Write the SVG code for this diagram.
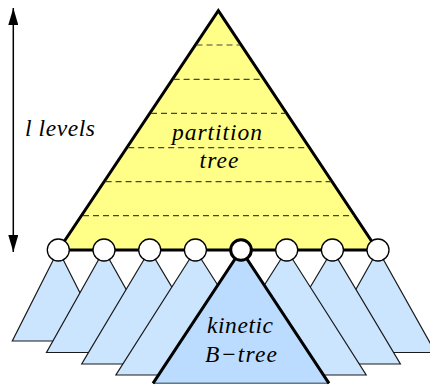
<svg xmlns="http://www.w3.org/2000/svg" width="430" height="386" viewBox="0 0 430 386">
<defs>
<style>
.sub{fill:#cce5ff;stroke:#1a1a1a;stroke-width:1.2;stroke-linejoin:miter}
.dash{stroke:#444;stroke-width:1.2;stroke-dasharray:6 4;fill:none}
.node{fill:#fff;stroke:#000;stroke-width:1.3}
.lbl{font-family:'Liberation Serif',serif;font-style:italic;font-size:23.5px;fill:#000}
</style>
<marker id="arr" viewBox="0 0 17 10" refX="17" refY="5" markerWidth="17" markerHeight="10" markerUnits="userSpaceOnUse" orient="auto-start-reverse">
<path d="M0,0 L17,5 L0,10 Z" fill="#000"/>
</marker>
</defs>
<rect width="430" height="386" fill="#fff"/>

<g id="subtrees">
<polygon id="sub1" class="sub" points="58.3,250 12.3,341 104.3,341"/>
<polygon id="sub2" class="sub" points="104,250 46.5,352.5 161.5,352.5"/>
<polygon id="sub3" class="sub" points="149.7,250 81.7,364 217.7,364"/>
<polygon id="sub4" class="sub" points="195.4,250 115.9,375 274.9,375"/>
<polygon id="sub8" class="sub" points="378,250 320.5,352.5 435.5,352.5"/>
<polygon id="sub7" class="sub" points="332.4,250 264.4,364 400.4,364"/>
<polygon id="sub6" class="sub" points="286.7,250 207.2,375 366.2,375"/>
</g>

<g id="kinetic">
<polygon points="241,250 153,383.3 329,383.3" fill="#bbdcff"/>
<line x1="153" y1="383.3" x2="329" y2="383.3" stroke="#667788" stroke-width="1.6"/>
<polyline points="153,383.3 241,250 329,383.3" fill="none" stroke="#000" stroke-width="3"/>
<text class="lbl" x="240" y="333" text-anchor="middle" textLength="66" lengthAdjust="spacing">kinetic</text>
<text class="lbl" x="241" y="361.5" text-anchor="middle" textLength="72" lengthAdjust="spacing">B−tree</text>
</g>

<g id="partition">
<polygon points="218.3,10.7 377.5,250 58.5,250" fill="#ffff88" stroke="#000" stroke-width="3" stroke-linejoin="miter"/>
<line class="dash" x1="196.5" y1="45" x2="240" y2="45"/>
<line class="dash" x1="173.6" y1="79.3" x2="263" y2="79.3"/>
<line class="dash" x1="151" y1="113.3" x2="285.5" y2="113.3"/>
<line class="dash" x1="128.2" y1="147.6" x2="308.3" y2="147.6"/>
<line class="dash" x1="105.6" y1="181.6" x2="331" y2="181.6"/>
<line class="dash" x1="83" y1="215.7" x2="353.5" y2="215.7"/>
<text class="lbl" x="217" y="140" text-anchor="middle" textLength="90" lengthAdjust="spacing">partition</text>
<text class="lbl" x="219" y="168" text-anchor="middle" textLength="39" lengthAdjust="spacing">tree</text>
</g>

<g id="nodes">
<circle id="n1" class="node" cx="58.3" cy="250" r="11"/>
<circle id="n2" class="node" cx="104" cy="250" r="11"/>
<circle id="n3" class="node" cx="149.7" cy="250" r="11"/>
<circle id="n4" class="node" cx="195.4" cy="250" r="11"/>
<circle id="n5" cx="241" cy="250" r="10.3" fill="#fff" stroke="#000" stroke-width="3"/>
<circle id="n6" class="node" cx="286.7" cy="250" r="11"/>
<circle id="n7" class="node" cx="332.4" cy="250" r="11"/>
<circle id="n8" class="node" cx="378" cy="250" r="11"/>
</g>

<g id="connectors">
<line x1="13.3" y1="8" x2="13.3" y2="252" stroke="#000" stroke-width="1.5" marker-start="url(#arr)" marker-end="url(#arr)"/>
</g>

<g id="levels-label">
<text class="lbl" x="25" y="136" textLength="70" lengthAdjust="spacing">l levels</text>
</g>
</svg>
